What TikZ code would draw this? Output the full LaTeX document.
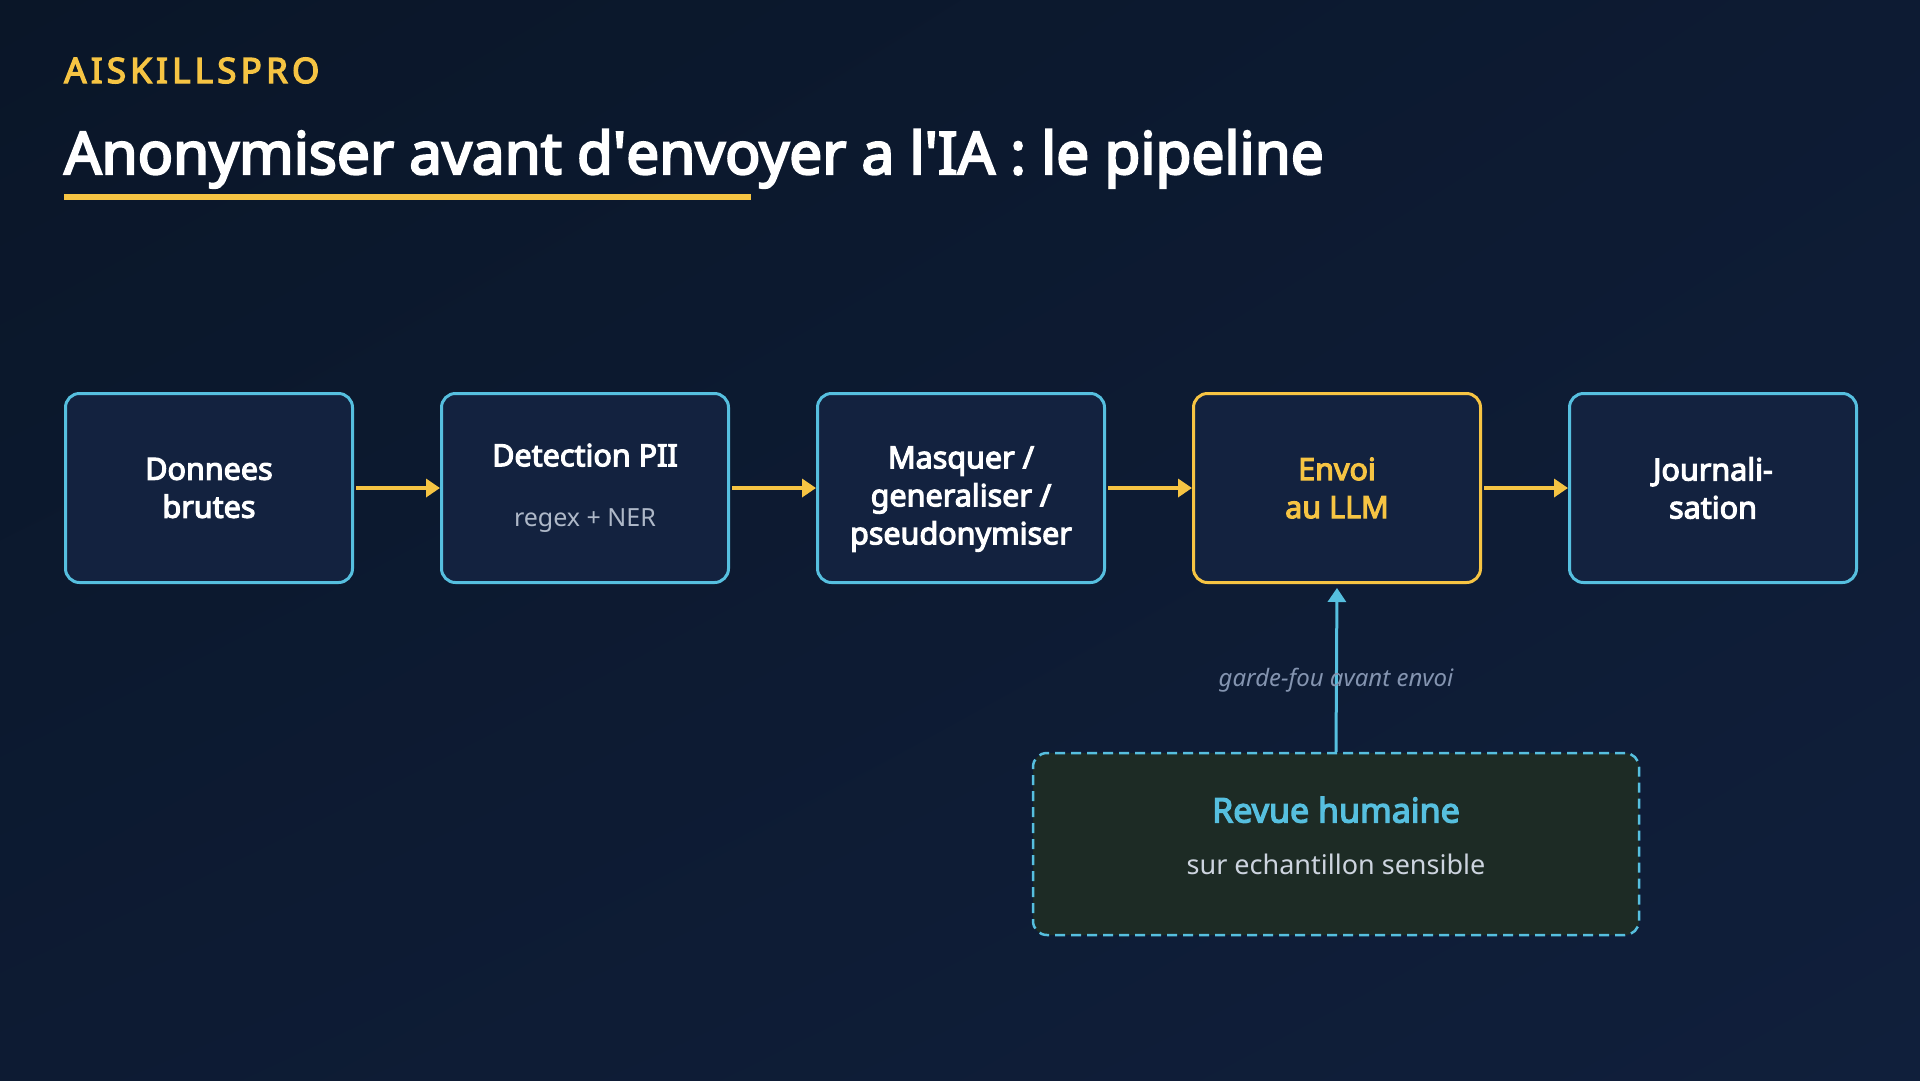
\documentclass[tikz,border=0pt]{standalone}
\usepackage{fontspec}
\setmainfont{Noto Sans}[AutoFakeBold=3.8]
\newfontfamily\brandfont{Noto Sans}[LetterSpace=12, AutoFakeBold=3.8]
\usetikzlibrary{arrows.meta,shadings}
\definecolor{bgA}{HTML}{0A1628}
\definecolor{bgB}{HTML}{0D1B33}
\definecolor{bgC}{HTML}{101F3B}
\definecolor{boxfill}{HTML}{13223F}
\definecolor{cyanc}{HTML}{56BFDF}
\definecolor{gold}{HTML}{F6C443}
\definecolor{subgray}{HTML}{AEB8C8}
\definecolor{labgray}{HTML}{8494B0}
\definecolor{greenfill}{HTML}{1D2B25}
\definecolor{revtext}{HTML}{CDD4DF}
\begin{document}
\begin{tikzpicture}[x=1pt,y=-1pt,
  stepbox/.style={draw=cyanc, line width=3pt, fill=boxfill, rounded corners=14pt,
    minimum width=287pt, minimum height=189pt, align=center, text=white,
    font=\bfseries\fontsize{30.5}{38}\selectfont, inner sep=0pt},
  flow/.style={draw=gold, line width=3.5pt, shorten <=2pt, -{Triangle[length=14pt,width=18pt]}},
  guard/.style={draw=cyanc, line width=3pt, shorten >=4pt, -{Triangle[length=14pt,width=18pt]}}]
\shade[upper left=bgA, upper right=bgB, lower left=bgB, lower right=bgC] (0,0) rectangle (1920,1080);
\useasboundingbox (0,0) rectangle (1920,1080);

\node[anchor=base west, inner sep=0pt, text=gold, font=\brandfont\bfseries\fontsize{35}{40}\selectfont] (brand) at (64,83) {AISKILLSPRO};
\node[anchor=base west, inner sep=0pt, text=white, font=\bfseries\fontsize{58.5}{70}\selectfont] (title) at (64,174) {Anonymiser avant d\textquotesingle envoyer a l\textquotesingle IA : le pipeline};
\fill[gold] (64,194) rectangle (751,200);

\node[stepbox] (raw) at (209,488) {Donnees\\brutes};
\node[stepbox] (det) at (585,488) {Detection PII\\[22pt]{\mdseries\fontsize{25}{30}\selectfont\color{subgray}regex + NER}};
\node[stepbox] (mask) at (961,488) {\rule{0pt}{44pt}Masquer /\\generaliser /\\pseudonymiser};
\node[stepbox, draw=gold, text=gold] (llm) at (1337,488) {Envoi\\au LLM};
\node[stepbox] (log) at (1713,488) {Journali-\\sation};

\draw[flow] (raw) -- (det);
\draw[flow] (det) -- (mask);
\draw[flow] (mask) -- (llm);
\draw[flow] (llm) -- (log);

\node[draw=cyanc, line width=2.5pt, dash pattern=on 10pt off 6pt, fill=greenfill, rounded corners=14pt,
  minimum width=606pt, minimum height=182pt, align=center, inner sep=0pt] (rev) at (1336,844)
  {{\bfseries\fontsize{34}{36}\selectfont\color{cyanc}Revue humaine}\\[30pt]{\fontsize{27}{30}\selectfont\color{revtext}sur echantillon sensible\rule[-17pt]{0pt}{17pt}}};

\draw[guard] (rev.north) -- (llm.south);
\node[text=labgray, font=\itshape\fontsize{24}{28}\selectfont, inner sep=0pt] (lab) at (1336,680) {garde-fou avant envoi};
\end{tikzpicture}
\end{document}
